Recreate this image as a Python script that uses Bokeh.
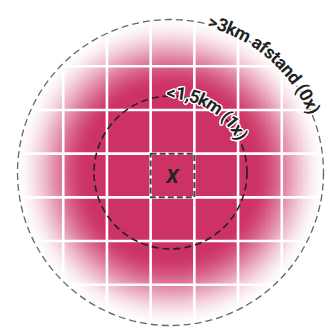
import math
import numpy as np
from bokeh.plotting import figure
from bokeh.core.properties import value
from bokeh.embed import file_html
from bokeh.resources import INLINE

# ---- data ----
radii_km = [1.5, 3.0]                       # inner, outer dashed circles
labels = ["<1,5km (1x)", ">3km afstand (0x)"]
label_start_deg = [-3.0, 14.0]              # where each curved label starts (clockwise from top)
grid_idx = [-2.5, -1.5, -0.5, 0.5, 1.5, 2.5]  # grid line positions in cells
cell_km = 3.0 / 3.5                          # size of one grid cell
centre_label = "X"

# ---- layout ----
W, H = 327, 328
PX = 51.0                      # px per km
CXP, CYP = 170.0, 172.0        # circle centre inside the frame (px from left / top)
GX, GY = 2.0 / PX, -3.0 / PX   # grid centre offset (km)
x0, x1 = -CXP / PX, (W - CXP) / PX
y0, y1 = -(H - CYP) / PX, CYP / PX

p = figure(width=W, height=H, x_range=(x0, x1), y_range=(y0, y1),
           output_backend="svg", toolbar_location=None, min_border=0,
           outline_line_color=None, background_fill_color="white",
           border_fill_color="white")
p.axis.visible = False
p.grid.visible = False

# ---- radial gradient ----
N = 400
ext = 3.3
xs = np.linspace(-ext, ext, N)
XX, YY = np.meshgrid(xs, xs)
R = np.sqrt(XX**2 + YY**2) * PX
t = np.clip((R - 82.0) / (155.0 - 82.0), 0, 1)
a = 1 - (t * t * (3 - 2 * t))
base = np.array([205, 50, 101], dtype=float)
rgb = 255 * (1 - a[..., None]) + base * a[..., None]
img = np.empty((N, N), dtype=np.uint32)
view = img.view(dtype=np.uint8).reshape((N, N, 4))
view[..., 0] = rgb[..., 0].astype(np.uint8)
view[..., 1] = rgb[..., 1].astype(np.uint8)
view[..., 2] = rgb[..., 2].astype(np.uint8)
view[..., 3] = 255
p.image_rgba(image=[img], x=-ext, y=-ext, dw=2 * ext, dh=2 * ext)

# ---- white grid ----
gxs = [GX + i * cell_km for i in grid_idx]
gys = [GY + i * cell_km for i in grid_idx]
p.segment(x0=gxs, y0=[y0] * len(gxs), x1=gxs, y1=[y1] * len(gxs),
          line_color="white", line_width=2.6)
p.segment(x0=[x0] * len(gys), y0=gys, x1=[x1] * len(gys), y1=gys,
          line_color="white", line_width=2.6)

# ---- dashed circles ----
p.circle(x=[0], y=[0], radius=[radii_km[1]], fill_color=None,
         line_color="#666666", line_width=1.3, line_dash="7 4")
p.circle(x=[0], y=[0], radius=[radii_km[0]], fill_color=None,
         line_color="#222222", line_width=1.6, line_dash="7 4")

# ---- centre square ----
p.rect(x=[GX], y=[GY], width=[cell_km], height=[cell_km], fill_color=None,
       line_color="#444444", line_width=2, line_dash="6 3")
p.text(x=[GX], y=[GY], text=[centre_label], text_font=value("Roboto"),
       text_font_style="bold italic", text_font_size="20px",
       text_align="center", text_baseline="middle", text_color="#222222")

# ---- curved labels ----
WID = {'>': .55, '<': .55, '3': .56, 'k': .52, 'm': .87, ' ': .25, 'a': .54,
       'f': .35, 's': .52, 't': .33, 'n': .55, 'd': .56, '(': .34, ')': .35,
       '0': .56, 'x': .50, '1': .56, ',': .22, '5': .56}

def arc_chars(label, r_px, start_deg, size, spacing):
    xs_, ys_, ts_, an_ = [], [], [], []
    s = math.radians(start_deg) * r_px
    for c in label:
        w = WID.get(c, .55) * size + spacing
        th = (s + w / 2) / r_px
        xs_.append(r_px * math.sin(th) / PX)
        ys_.append(r_px * math.cos(th) / PX)
        ts_.append(c)
        an_.append(-th)
        s += w
    return xs_, ys_, ts_, an_

FS = 18
src_x, src_y, src_t, src_a = [], [], [], []
for rad, lab, st in zip(radii_km, labels, label_start_deg):
    bx, by, bt, ba = arc_chars(lab, rad * PX + 3.5, st, FS, 0.0)
    src_x += bx; src_y += by; src_t += bt; src_a += ba

halo = 1.3 / PX
for k in range(12):
    ang = 2 * math.pi * k / 12
    dx, dy = halo * math.cos(ang), halo * math.sin(ang)
    p.text(x=[v + dx for v in src_x], y=[v + dy for v in src_y], text=src_t,
           angle=src_a, text_font=value("Roboto"), text_font_style="bold",
           text_font_size=f"{FS}px", text_align="center",
           text_baseline="alphabetic", text_color="white")
p.text(x=src_x, y=src_y, text=src_t, angle=src_a, text_font=value("Roboto"),
       text_font_style="bold", text_font_size=f"{FS}px", text_align="center",
       text_baseline="alphabetic", text_color="#222222")

open("out.html", "w").write(file_html(p, INLINE))
